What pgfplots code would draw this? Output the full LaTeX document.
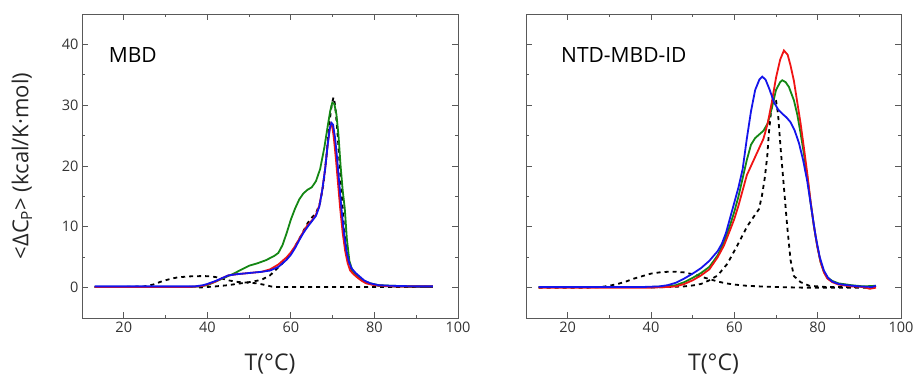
\documentclass[border=0pt]{standalone}
\usepackage{fontspec}
\setmainfont{Open Sans}
\usepackage{pgfplots}
\pgfplotsset{compat=1.18}
\definecolor{cred}{RGB}{240,20,20}
\definecolor{cgreen}{RGB}{20,135,20}
\definecolor{cblue}{RGB}{20,20,235}
\pgfplotsset{
  myax/.style={
    scale only axis, height=304pt,
    xmin=10, xmax=100, ymin=-5, ymax=45,
    xtick={20,40,60,80,100}, ytick={0,10,20,30,40},
    minor x tick num=1, minor y tick num=1,
    tick align=inside, major tick length=6pt, minor tick length=3pt,
    axis line style={black!65, line width=0.8pt},
    every tick/.style={black!65, line width=0.8pt},
    tick label style={font=\fontsize{14.5}{16}\selectfont, text=black!80},
    /pgf/number format/assume math mode=true,
    xlabel style={font=\fontsize{23}{26}\selectfont, text=black!85, at={(axis description cs:0.5,-0.150)}, anchor=center},
    ylabel style={font=\fontsize{22}{26}\selectfont, text=black!85, at={(axis description cs:-0.16,0.5)}, anchor=center},
    anchor=south west,
  },
  cur/.style={line width=1.8pt, no marks},
  dsh/.style={line width=1.8pt, no marks, black, dash pattern=on 4pt off 4pt},
}
\begin{document}
\begin{tikzpicture}[x=1pt,y=1pt]
\useasboundingbox (0,0) rectangle (916,378);
% ---------------- Left: MBD ----------------
\begin{axis}[myax, at={(82pt,60pt)}, width=376pt,
  xlabel={T(°C)}, ylabel={<ΔC\textsubscript{P}> (kcal/K·mol)}]
\addplot[dsh] coordinates {(13,0.1)(20,0.1)(25,0.2)(27,0.5)(29,1.0)(31,1.4)(33,1.7)(36,1.85)(39,1.9)(41,1.85)(43,1.6)(45,1.2)(47,0.95)(50,0.8)(52,0.7)(54,0.4)(55.5,0.15)(57,0.1)(94,0.1)};
\addplot[dsh] coordinates {(38,0)(42,0.2)(45,0.4)(48,0.7)(51,1.0)(53,1.3)(55,2.0)(56.5,3.0)(58,4.0)(60,5.6)(62,8.0)(64,10.6)(65,11.5)(66,12.2)(67,14)(67.8,17)(68.5,21.5)(69.2,27)(69.8,30.2)(70.2,31.3)(70.6,30)(71.1,26)(71.6,21)(72.1,16)(72.6,11)(73.2,7)(73.8,4.5)(74.5,3.0)(75.5,2.0)(77,1.2)(79,0.6)(81,0.3)(84,0.2)(94,0.1)};
\addplot[cur, cgreen] coordinates {(13,0.1)(30,0.1)(36,0.1)(38,0.2)(40,0.4)(42,1.0)(44,1.6)(46,2.2)(48,2.9)(50,3.6)(52,4.0)(54,4.5)(56,5.2)(57,5.7)(58,7.0)(59,9.0)(60,11.2)(61,13.0)(62,14.5)(63,15.5)(64,16.1)(65,16.5)(66,17.5)(67,19.5)(68,23)(68.8,26.5)(69.4,29)(69.9,30.4)(70.4,30.2)(70.9,28.5)(71.4,25)(71.9,20)(72.4,16)(72.9,13)(73.4,8)(74,4.4)(74.8,2.6)(76,1.8)(77.5,1.1)(79,0.7)(81,0.4)(84,0.3)(90,0.2)(94,0.2)};
\addplot[cur, cred] coordinates {(13,0.1)(20,0.1)(25,0.1)(30,0.1)(35,0.1)(37,0.15)(39,0.3)(40,0.5)(42,1.0)(44,1.7)(45,2.0)(47,2.2)(50,2.4)(53,2.6)(55,3.0)(57,3.8)(59,5.0)(60,5.8)(61,6.8)(62,8.0)(63,9.2)(64,10.3)(65,11.0)(66,12.0)(66.8,13.5)(67.5,16)(68.2,19.5)(68.8,23.5)(69.3,26)(69.6,26.9)(69.9,26.6)(70.3,24.5)(70.8,21)(71.3,17)(71.8,13)(72.4,9)(73,6)(73.6,4)(74.2,2.8)(75,2.2)(76,1.6)(77,1.1)(78,0.7)(80,0.4)(82,0.3)(85,0.2)(90,0.2)(94,0.2)};
\addplot[cur, cblue] coordinates {(13,0.2)(20,0.2)(30,0.2)(37,0.2)(39,0.4)(40,0.6)(42,1.1)(44,1.7)(45,2.0)(47,2.2)(50,2.4)(53,2.6)(55,2.8)(57,3.4)(59,4.6)(60,5.4)(61,6.5)(62,7.8)(63,9.0)(64,10.0)(65,10.9)(66,11.8)(66.8,13.3)(67.5,16)(68.2,19.5)(68.8,23.5)(69.3,26.2)(69.7,27.1)(70.1,26.8)(70.6,24.5)(71.1,21)(71.6,17)(72.1,13)(72.7,9)(73.3,6)(73.9,4.2)(74.5,3.2)(75.5,2.4)(76.5,1.8)(77.5,1.2)(79,0.7)(81,0.4)(84,0.3)(90,0.2)(94,0.2)};
\node[anchor=west, font=\fontsize{21}{24}\selectfont] at (axis cs:15.6,38.3) {MBD};
\end{axis}
% ---------------- Right: NTD-MBD-ID ----------------
\begin{axis}[myax, at={(526pt,60pt)}, width=375pt, yticklabels={},
  xlabel={T(°C)}]
\addplot[dsh] coordinates {(13,0)(25,0)(28,0.1)(30,0.3)(32,0.6)(34,1.0)(36,1.5)(38,1.9)(40,2.3)(42,2.5)(44,2.6)(46,2.6)(48,2.5)(50,2.2)(52,1.8)(54,1.4)(56,1.0)(58,0.7)(60,0.5)(63,0.3)(66,0.2)(70,0.1)(76,0)(94,0)};
\addplot[dsh] coordinates {(40,0)(44,0.1)(48,0.2)(50,0.35)(52,0.6)(54,1.2)(56,2.0)(58.3,3.9)(60.7,6.9)(63.1,10.1)(65,12.0)(65.9,12.9)(66.6,15)(67.3,18)(67.9,21.6)(68.3,25.5)(68.9,29.5)(69.5,31.3)(70.0,30.8)(70.5,28.5)(71.1,23)(71.9,16.5)(72.7,10)(73.5,4.5)(74.3,1.9)(75.9,0.9)(78,0.3)(82,0.1)(94,0.1)};
\addplot[cur, cgreen] coordinates {(13,0.1)(40,0.1)(44,0.2)(46,0.4)(48,0.9)(50,1.6)(52,2.4)(54,3.4)(56,5.3)(57.5,7.4)(59,10.3)(60,12.5)(61,15.0)(62,18)(63,21)(64,23.5)(65,24.6)(66,25.2)(67,25.8)(68,27)(69,29.5)(70,32.5)(71,33.8)(71.5,34.1)(72.3,33.8)(73.1,33)(74.3,30.8)(75.1,28.5)(75.9,25.4)(76.7,22)(77.5,18.3)(78.3,14.0)(79.1,10.1)(79.9,6.8)(80.7,4.2)(81.5,2.6)(82.3,1.7)(83.5,1.1)(85,0.7)(88,0.4)(91,0.2)(94,0.3)};
\addplot[cur, cred] coordinates {(13,0.0)(30,0.0)(40,0.0)(44,0.1)(46,0.2)(48,0.6)(50,1.2)(52,2.0)(54,3.0)(56,5.0)(57.5,6.9)(59,9.5)(60,11.3)(61,13.5)(62,16)(63,18.5)(64,20)(65,21.5)(66,23)(67,24.5)(68,27)(69,30.5)(70,34.5)(71,37.5)(71.9,39)(72.8,38.3)(73.5,36.5)(74.3,34)(75.1,30.5)(75.9,27)(76.7,23)(77.5,18.8)(78.3,14.2)(79.1,10.1)(79.9,6.8)(80.7,4.2)(81.5,2.5)(82.3,1.5)(83.5,0.9)(85,0.5)(88,0.2)(91,0.1)(92.5,-0.2)(94,0.0)};
\addplot[cur, cblue] coordinates {(13,0.1)(20,0.1)(30,0.1)(38,0.1)(40,0.15)(42,0.2)(44,0.4)(46,0.8)(48,1.5)(50,2.3)(52,3.2)(54,4.4)(56,6.0)(57,7.2)(58,9.0)(59,11.5)(60,14.0)(61,16.5)(62,19.5)(63,24.5)(64,29)(65,32.5)(66,34.2)(66.7,34.7)(67.5,34.2)(68.5,32.5)(69.5,30.5)(70.5,29.3)(71.5,28.6)(72.5,28.0)(73.5,27.2)(74.5,25.8)(75.5,23.8)(76.5,21)(77.5,17.5)(78.5,13)(79.5,8.5)(80.5,5)(81.5,2.8)(82.5,1.6)(83.5,1.0)(85,0.6)(87,0.4)(90,0.2)(93,0.1)(94,0.3)};
\node[anchor=west, font=\fontsize{21}{24}\selectfont] at (axis cs:17.6,38.3) {NTD-MBD-ID};
\end{axis}
\end{tikzpicture}
\end{document}
